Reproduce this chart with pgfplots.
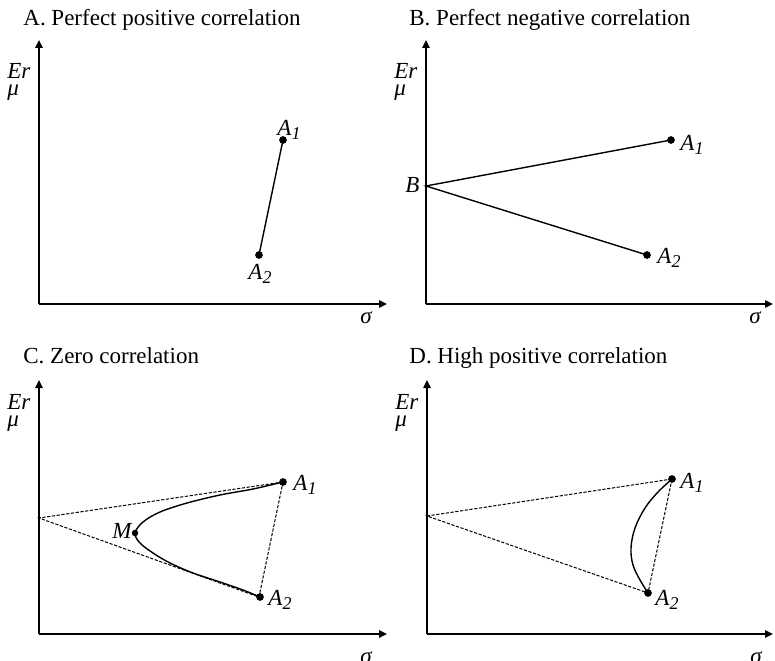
\documentclass[border=0pt]{standalone}
\usepackage{fontspec}
\setmainfont{Liberation Serif}
\usepackage{pgfplots}
\pgfplotsset{compat=1.18}
\usetikzlibrary{arrows.meta}

% common look of the four mean--risk panels
\pgfplotsset{
  panel/.style={
    anchor=origin, x=0.5pt, y=0.5pt, xmin=0, ymin=0,
    axis lines=left,
    axis line style={line width=0.9pt, -{Triangle[length=4pt,width=3.6pt]}},
    xtick=\empty, ytick=\empty, clip=false,
    every axis plot/.append style={black},
  },
  frontier/.style={line width=0.7pt, black},
  bound/.style={line width=0.5pt, black, dash pattern=on 1.6pt off 0.8pt},
  asset/.style={only marks, mark=*, mark size=1.7pt, black},
}
\tikzset{lbl/.style={anchor=base west, inner sep=0pt}}
% italic asset name with a lowered italic index
\newcommand{\asset}[1]{\textit{A}\raisebox{-0.45ex}{\fontsize{9}{10}\selectfont\itshape #1}}
\newcommand{\axislabels}{%
  \node[lbl] at (axis cs:-32,225) {\itshape Er};
  \node[lbl] at (axis cs:-32,208) {\itshape μ};
}

\begin{document}
{\fontsize{11.5}{14}\selectfont
\begin{tikzpicture}
\useasboundingbox (0,0) rectangle (387.5pt,330pt);

% A. perfect positive correlation
\begin{axis}[panel, at={(19.5pt,178pt)}, xmax=348, ymax=264]
  \addplot[frontier] coordinates {(244,164) (220,49)};
  \addplot[asset] coordinates {(244,164) (220,49)};
  \axislabels
  \node[lbl] at (axis cs:-16,278) {A. Perfect positive correlation};
  \node[lbl] at (axis cs:238,169) {\asset{1}};
  \node[lbl] at (axis cs:209,25) {\asset{2}};
  \node at (axis cs:327,-14) {\itshape σ};
\end{axis}

% B. perfect negative correlation
\begin{axis}[panel, at={(213pt,178pt)}, xmax=347, ymax=264]
  \addplot[frontier] coordinates {(245,164) (0,118) (221,49)};
  \addplot[asset] coordinates {(245,164) (221,49)};
  \axislabels
  \node[lbl] at (axis cs:-17,278) {B. Perfect negative correlation};
  \node[lbl] at (axis cs:-21,112) {\itshape B};
  \node[lbl] at (axis cs:254,154) {\asset{1}};
  \node[lbl] at (axis cs:231,41) {\asset{2}};
  \node at (axis cs:329,-14) {\itshape σ};
\end{axis}

% C. zero correlation
\begin{axis}[panel, at={(19.5pt,13pt)}, xmax=348, ymax=254]
  \addplot[bound] coordinates {(244,152) (0,116) (220,37) (244,152)};
  \addplot[frontier, smooth, tension=0.55] coordinates {
    (244,152) (214,145) (181,139) (148,131) (121,122) (104,112) (96,101)
    (101,91) (114,81) (131,71) (154,61) (181,52) (204,44) (221,37)};
  \addplot[asset] coordinates {(244,152) (221,37)};
  \addplot[asset, mark size=1.4pt] coordinates {(96,101)};
  \axislabels
  \node[lbl] at (axis cs:73,96) {\itshape M};
  \node[lbl] at (axis cs:-16,271) {C. Zero correlation};
  \node[lbl] at (axis cs:254,144) {\asset{1}};
  \node[lbl] at (axis cs:229,29) {\asset{2}};
  \node at (axis cs:327,-24) {\itshape σ};
\end{axis}

% D. high positive correlation
\begin{axis}[panel, at={(213.5pt,13pt)}, xmax=346, ymax=254]
  \addplot[bound] coordinates {(245,155) (0,118) (221,41) (245,155)};
  \addplot[frontier, smooth, tension=0.6] coordinates {
    (245,155) (231,142) (218,126) (208,106) (204,86) (206,69) (213,54) (221,41)};
  \addplot[asset] coordinates {(245,155) (221,41)};
  \axislabels
  \node[lbl] at (axis cs:-18,271) {D. High positive correlation};
  \node[lbl] at (axis cs:253,146) {\asset{1}};
  \node[lbl] at (axis cs:228,29) {\asset{2}};
  \node at (axis cs:329,-24) {\itshape σ};
\end{axis}
\end{tikzpicture}}
\end{document}
